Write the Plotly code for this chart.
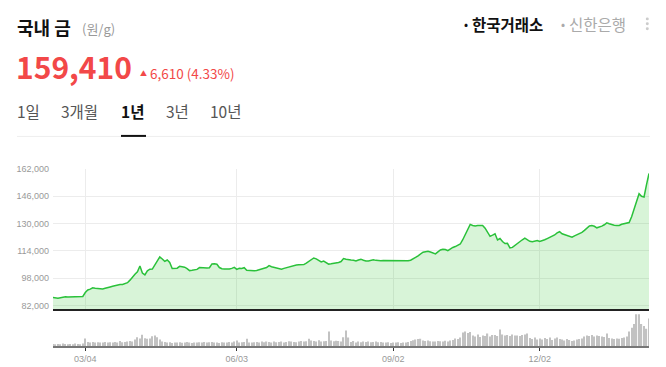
import pandas as pd
import plotly.graph_objects as go

# The page adds an 8px body margin; the figure is sized and positioned to fill the window.
W, H = 666, 367
OFF = 8
FW, FH = W - OFF, H - OFF


def px(x):
    return (x - OFF) / FW


def py(y):
    return 1 - (y - OFF) / FH


# ---------------- data ----------------
holidays = [
    "2024-03-01", "2024-04-10", "2024-05-01", "2024-05-06", "2024-05-15",
    "2024-06-06", "2024-08-15", "2024-09-16", "2024-09-17", "2024-09-18",
    "2024-10-01", "2024-10-03", "2024-10-09", "2024-12-25", "2024-12-31",
    "2025-01-01", "2025-01-27", "2025-01-28", "2025-01-29", "2025-01-30",
]
dates = [d.strftime("%Y-%m-%d") for d in pd.bdate_range("2024-02-13", "2025-02-11")
         if d.strftime("%Y-%m-%d") not in holidays]

prices = [
    86600, 86300, 86200, 86500, 86900, 87000, 86900, 87000, 86700, 86900,
    87200, 87100, 87200, 89500, 91000, 91500, 92300, 92100, 91900, 91700,
    91600, 92000, 92600, 92800, 93200, 93600, 94000, 94200, 94300, 94600,
    95300, 96800, 98900, 100300, 101700, 105100, 101000, 99900, 102300, 103200,
    103300, 105800, 107500, 110400, 109200, 107800, 108600, 107200, 103600, 103500,
    103800, 104900, 104800, 104400, 103600, 102400, 102600, 102700, 103100, 104200,
    104000, 103700, 103900, 104100, 106300, 106400, 106100, 104200, 103500, 103300,
    103100, 103300, 103700, 104300, 103100, 103800, 103600, 104100, 102600, 102400,
    102500, 102300, 102400, 103000, 103500, 103800, 104200, 105300, 104700, 104300,
    103800, 103300, 103200, 103700, 104100, 104800, 105200, 105600, 105700, 105800,
    105800, 105900, 106800, 107800, 108700, 109800, 109300, 108300, 107500, 108000,
    107300, 106200, 106400, 106600, 106900, 107200, 107700, 109500, 109100, 108700,
    108600, 108500, 108000, 108600, 109100, 108500, 108000, 108000, 108300, 108700,
    108400, 108100, 108200, 108300, 108300, 108200, 108200, 108100, 108100, 108000,
    108000, 107900, 107900, 108200, 108500, 109200, 110100, 111100, 112400, 113200,
    113500, 113800, 113300, 112700, 112200, 113400, 114500, 114900, 114800, 114100,
    115200, 116000, 116500, 117100, 118000, 120500, 123800, 126400, 129500, 128900,
    128600, 128900, 129000, 128900, 127300, 125000, 122500, 123200, 124000, 120400,
    121200, 119500, 118300, 118400, 115700, 116000, 117200, 118300, 119500, 120500,
    121400, 120600, 119600, 119400, 119600, 120100, 119500, 119900, 120500, 121200,
    121800, 122600, 123300, 124500, 125200, 124000, 123400, 123000, 122600, 122000,
    122800, 123400, 123900, 124800, 126000, 127300, 128600, 128800, 128400, 127500,
    127900, 128500, 129300, 130400, 129900, 129300, 129000, 128900, 128900, 129600,
    130000, 130100, 130600, 134000, 138400, 142900, 147500, 146000, 145600, 152800,
    159410,
]

volume = [
    25, 20, 25, 20, 30, 25, 20, 25, 22, 30,
    25, 22, 30, 80, 45, 40, 45, 38, 42, 40,
    38, 45, 40, 42, 38, 44, 40, 53, 42, 45,
    48, 55, 50, 70, 93, 80, 117, 83, 77, 80,
    103, 110, 93, 70, 50, 43, 38, 42, 35, 40,
    38, 42, 36, 40, 45, 38, 35, 40, 38, 42,
    40, 45, 38, 42, 44, 38, 40, 35, 42, 38,
    40, 45, 38, 50, 60, 38, 42, 45, 77, 40,
    38, 42, 45, 40, 48, 42, 50, 45, 40, 48,
    42, 45, 50, 40, 45, 52, 48, 45, 42, 50,
    55, 48, 52, 77, 60, 55, 50, 62, 48, 52,
    55, 150, 60, 52, 58, 55, 50, 93, 160, 90,
    45, 55, 40, 50, 42, 48, 45, 50, 42, 45,
    48, 42, 45, 40, 38, 42, 35, 40, 38, 42,
    35, 40, 38, 45, 55, 62, 70, 75, 78, 60,
    55, 60, 52, 50, 48, 55, 52, 50, 58, 48,
    60, 65, 80, 75, 90, 140, 150, 135, 145, 110,
    100, 120, 95, 110, 105, 130, 100, 115, 115, 105,
    170, 120, 110, 115, 105, 120, 110, 110, 105, 115,
    120, 130, 85, 75, 90, 70, 80, 70, 85, 75,
    90, 65, 80, 90, 75, 70, 60, 75, 65, 55,
    60, 70, 75, 80, 100, 110, 105, 115, 100, 110,
    105, 100, 95, 130, 85, 80, 75, 80, 78, 85,
    90, 100, 150, 190, 227, 327, 327, 227, 207, 180,
    283,
]

tick_dates = ["2024-03-04", "2024-06-03", "2024-09-02", "2024-12-02"]
tick_labels = ["03/04", "06/03", "09/02", "12/02"]
y_ticks = [82000, 98000, 114000, 130000, 146000, 162000]

n = min(len(dates), len(prices), len(volume))
dates, prices, volume = dates[:n], prices[:n], volume[:n]

KR = "Noto Sans CJK KR"
NUM = "Liberation Sans"
RED = "#f24848"

fig = go.Figure()
fig.add_trace(go.Scatter(
    x=dates, y=prices, mode="lines",
    line=dict(color="#2ac13a", width=1.5),
    fill="tozeroy", fillcolor="rgba(60,200,60,0.2)",
    hoverinfo="skip", xaxis="x", yaxis="y",
))
fig.add_trace(go.Bar(
    x=dates, y=volume, marker=dict(color="#c2c2c2", line=dict(width=0)),
    width=0.48, xaxis="x2", yaxis="y2", hoverinfo="skip",
))

xdom = [px(53), px(649)]
fig.update_layout(
    width=FW, height=FH,
    margin=dict(l=0, r=0, t=0, b=0),
    paper_bgcolor="white", plot_bgcolor="white",
    showlegend=False,
    font=dict(family=KR),
    xaxis=dict(
        type="category", domain=xdom, range=[0, n - 1], anchor="y",
        tickvals=tick_dates, showticklabels=False, ticks="",
        showgrid=True, gridcolor="#ececec", gridwidth=1,
        showline=True, linecolor="#222", linewidth=2, zeroline=False,
    ),
    yaxis=dict(
        domain=[py(309.3), py(166.7)], range=[79700, 162000], anchor="x",
        tickvals=y_ticks, tickformat=",", ticks="",
        tickfont=dict(size=9, color="#999", family=NUM),
        showgrid=True, gridcolor="#ececec", gridwidth=1,
        showline=False, zeroline=False, ticklabelstandoff=3,
    ),
    xaxis2=dict(
        type="category", domain=xdom, matches="x", anchor="y2",
        tickvals=tick_dates, ticktext=tick_labels,
        ticks="outside", ticklen=3, tickcolor="#333", tickwidth=1,
        showline=True, linecolor="#777", linewidth=1.5,
        tickfont=dict(size=9, color="#999", family=NUM),
        showgrid=False, zeroline=False,
    ),
    yaxis2=dict(
        domain=[py(347), py(312)], range=[0, 350], anchor="x2",
        visible=False, showgrid=False, zeroline=False,
    ),
)

ann = []


def text(x, y, s, size, color, family=KR):
    ann.append(dict(
        x=px(x), y=py(y), xref="paper", yref="paper", text=s, showarrow=False,
        xanchor="left", yanchor="middle",
        font=dict(size=size, color=color, family=family),
    ))


text(15, 22.5, "<b>국내 금</b>", 18, "#111")
text(80, 24, "(원/g)", 13, "#999")
text(14, 62, "<b>159,410</b>", 30, RED)
text(138, 69, "▲", 7, RED)
text(148, 69.5, "6,610 (4.33%)", 13.5, RED)
text(15, 108, "1일", 15.5, "#555")
text(59, 108, "3개월", 15.5, "#555")
text(119, 108, "<b>1년</b>", 15.5, "#111")
text(164, 108, "3년", 15.5, "#555")
text(208, 108, "10년", 15.5, "#555")
text(462, 19, "•", 12, "#111")
text(470, 19, "<b>한국거래소</b>", 15.5, "#111")
text(559, 19, "•", 12, "#aaa")
text(567, 19, "신한은행", 15.5, "#aaa")
fig.update_layout(annotations=ann)

shapes = [
    dict(type="line", xref="paper", yref="paper", x0=px(17), x1=px(650),
         y0=py(133.5), y1=py(133.5), line=dict(color="#eeeeee", width=1)),
    dict(type="line", xref="paper", yref="paper", x0=px(121), x1=px(146),
         y0=py(133), y1=py(133), line=dict(color="#111", width=2)),
]
for cy in (14, 19, 24):
    shapes.append(dict(type="circle", xref="paper", yref="paper",
                       x0=px(645.8), x1=px(648.8), y0=py(cy + 1.5), y1=py(cy - 1.5),
                       fillcolor="#cccccc", line=dict(width=0)))
fig.update_layout(shapes=shapes)

fig.write_html("out.html")
